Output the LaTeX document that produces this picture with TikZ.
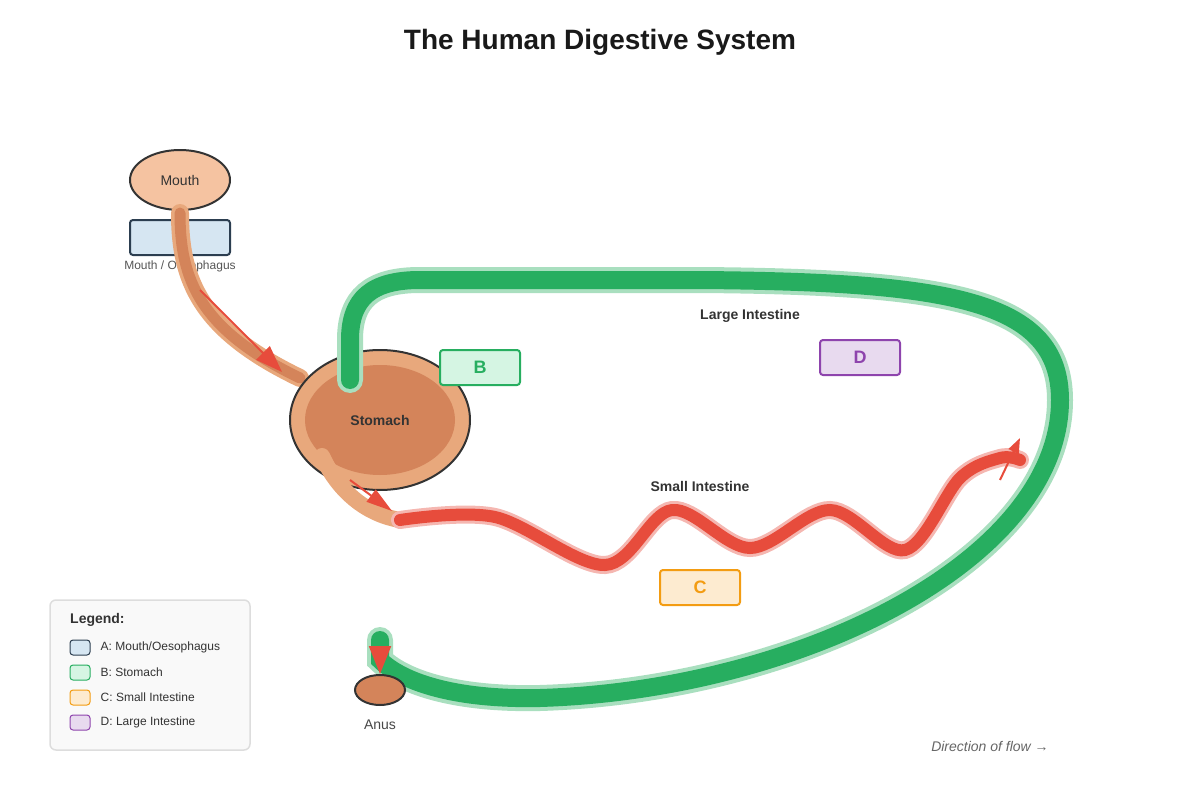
\documentclass[tikz,border=0pt]{standalone}
\usepackage{fontspec}
\setmainfont{Liberation Sans}
\usetikzlibrary{arrows.meta}
\usetikzlibrary{positioning}
\usetikzlibrary{shapes.geometric}

\definecolor{inkdark}{HTML}{333333}
\definecolor{inkgray}{HTML}{555555}
\definecolor{peach}{HTML}{F5C3A1}
\definecolor{tanlight}{HTML}{E8A87C}
\definecolor{tandark}{HTML}{D4845A}
\definecolor{boxAfill}{HTML}{D6E6F2}
\definecolor{boxAdraw}{HTML}{2C3E50}
\definecolor{boxBfill}{HTML}{D5F5E3}
\definecolor{boxBdraw}{HTML}{27AE60}
\definecolor{boxCfill}{HTML}{FDEBD0}
\definecolor{boxCdraw}{HTML}{F39C12}
\definecolor{boxDfill}{HTML}{E8DAEF}
\definecolor{boxDdraw}{HTML}{8E44AD}
\definecolor{colongreen}{HTML}{27AE60}
\definecolor{colonhalo}{HTML}{A9DFBF}
\definecolor{sired}{HTML}{E74C3C}
\definecolor{sihalo}{HTML}{F5B7B1}
\definecolor{legfill}{HTML}{F9F9F9}
\definecolor{legdraw}{HTML}{DDDDDD}

\begin{document}
\begin{tikzpicture}[x=1pt,y=-1pt,
    organ/.style={ellipse,draw=inkdark,line width=2pt,inner sep=0pt},
    tag/.style={rectangle,rounded corners=3pt,line width=2pt,minimum width=80pt,minimum height=35pt,inner sep=0pt,font=\fontsize{18}{18}\selectfont\bfseries},
    swatch/.style={rectangle,rounded corners=3pt,line width=1pt,minimum width=20pt,minimum height=15pt,inner sep=0pt},
    legtext/.style={inner sep=0pt,text=inkdark,font=\fontsize{12}{12}\selectfont},
    partname/.style={text=inkdark,font=\fontsize{14}{14}\selectfont\bfseries},
    flow/.style={draw=sired,line width=2pt,-{Triangle[length=27pt,width=19pt]}}]
    \useasboundingbox (0,0) rectangle (1200,800);

    \node[font=\fontsize{28}{28}\selectfont\bfseries,text=black!90] (title) at (600,42) {The Human Digestive System};

    % mouth and oesophagus
    \node[tag,minimum width=100pt,fill=boxAfill,draw=boxAdraw] (boxA) at (180,237.5) {};
    \node[text=inkgray,font=\fontsize{12}{12}\selectfont] (labelA) at (180,266) {Mouth / Oesophagus};
    \node[organ,fill=peach,minimum width=100pt,minimum height=60pt,font=\fontsize{14}{14}\selectfont,text=inkdark] (mouth) at (180,180) {Mouth};
    \draw[line width=18pt,draw=tanlight,line cap=round] (mouth.south) ++(0,2) coordinate (oesotop) .. controls (180,280) and (200,330) .. (300,378) coordinate (oesoend);
    \draw[line width=11pt,draw=tandark,line cap=round] (oesotop) .. controls (180,280) and (200,330) .. (oesoend);
    \coordinate (f1a) at (200,290);
    \coordinate (f1b) at (282,372);
    \draw[flow] (f1a) -- (f1b);

    % stomach
    \node[organ,fill=tanlight,minimum width=180pt,minimum height=140pt] (stomach) at (380,420) {};
    \fill[tandark] (stomach.center) ellipse [x radius=75pt,y radius=55pt];
    \node[partname] (stomachtxt) at (stomach.center) {Stomach};
    \draw[line width=16pt,draw=tanlight,line cap=round] (322,456) .. controls (340,495) and (370,515) .. (400,520);
    \coordinate (f2a) at (350,480);
    \coordinate (f2b) at (392,511);
    \draw[flow,-{Triangle[length=26pt,width=15pt]}] (f2a) -- (f2b);

    % large intestine
    \draw[line width=18pt,draw=colongreen,line cap=round,preaction={draw=colonhalo,line width=26pt,line cap=round}]
        (350,380) -- (350,340) .. controls (350,298) and (372,280) .. (420,280) -- (700,280)
        .. controls (950,282) and (1060,300) .. (1060,400)
        .. controls (1060,560) and (800,690) .. (540,698)
        .. controls (450,700) and (400,680) .. (380,660) -- (380,640);

    % small intestine
    \draw[line width=12pt,draw=sired,line cap=round,preaction={draw=sihalo,line width=18pt,line cap=round}]
        plot[smooth,tension=0.55] coordinates {(400,520) (495,517) (605,565) (672,510) (750,548) (830,510) (905,550) (960,478) (1000,458) (1020,460)};
    \coordinate (f3a) at (1000,480);
    \coordinate (f3b) at (1020,438);
    \draw[flow,-{Triangle[length=15pt,width=11pt]}] (f3a) -- (f3b);

    % anus
    \node[organ,fill=tandark,minimum width=50pt,minimum height=30pt] (anus) at (380,690) {};
    \node[text=inkdark!90,font=\fontsize{14}{14}\selectfont] (anustxt) at (380,725) {Anus};
    \coordinate (f4a) at (380,649);
    \draw[flow,-{Triangle[length=28pt,width=22pt]}] (f4a) -- (anus.north);

    % tags and names
    \node[tag,fill=boxBfill,draw=boxBdraw,text=boxBdraw] (boxB) at (480,367.5) {B};
    \node[tag,fill=boxCfill,draw=boxCdraw,text=boxCdraw] (boxC) at (700,587.5) {C};
    \node[tag,fill=boxDfill,draw=boxDdraw,text=boxDdraw] (boxD) at (860,357.5) {D};
    \node[partname] (largetxt) at (750,316) {Large Intestine};
    \node[partname] (smalltxt) at (700,486) {Small Intestine};

    % legend
    \draw[rounded corners=6pt,fill=legfill,draw=legdraw,line width=1.5pt] (50,600) rectangle (250,750);
    \node[anchor=west,inner sep=0pt,partname] (legtitle) at (70,620) {Legend:};
    \node[swatch,fill=boxAfill,draw=boxAdraw] (swA) at (80,647.5) {};
    \node[legtext,right=10pt of swA] (legA) {A: Mouth/Oesophagus};
    \node[swatch,fill=boxBfill,draw=boxBdraw] (swB) at (80,672.5) {};
    \node[legtext,right=10pt of swB] (legB) {B: Stomach};
    \node[swatch,fill=boxCfill,draw=boxCdraw] (swC) at (80,697.5) {};
    \node[legtext,right=10pt of swC] (legC) {C: Small Intestine};
    \node[swatch,fill=boxDfill,draw=boxDdraw] (swD) at (80,722.5) {};
    \node[legtext,right=10pt of swD] (legD) {D: Large Intestine};

    \node[text=black!60,font=\fontsize{14}{14}\selectfont\itshape] (flowtxt) at (990,746) {Direction of flow →};
\end{tikzpicture}
\end{document}
